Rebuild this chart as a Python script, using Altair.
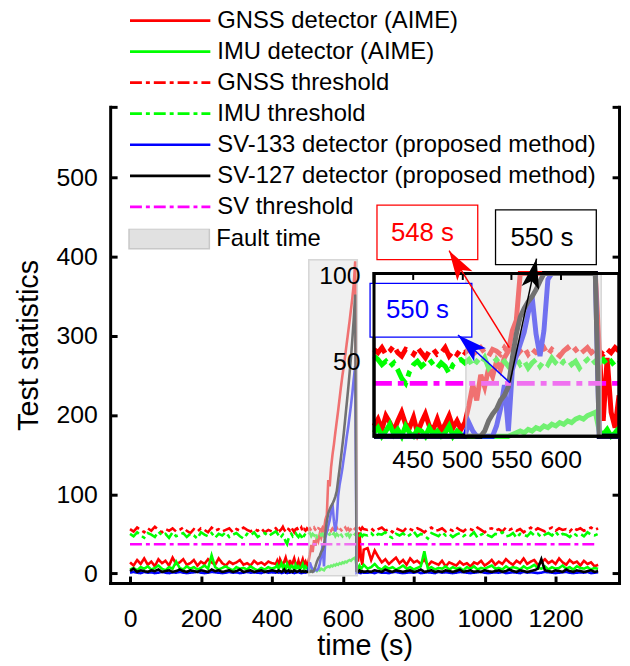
import altair as alt
import pandas as pd

FONT = "Liberation Sans"

# ---------------- series / legend ----------------
SERIES = [
    "GNSS detector (AIME)",
    "IMU detector (AIME)",
    "GNSS threshold",
    "IMU threshold",
    "SV-133 detector (proposed method)",
    "SV-127 detector (proposed method)",
    "SV threshold",
]
COLORS = ["#ff0000", "#00ff00", "#ff0000", "#00ff00", "#0000ff", "#000000", "#ff00ff"]
FAULT_LABEL = ["Fault time"]
FAULT_COLOR = ["#e1e1e1"]
SOLID = [1, 0]
DASH_MAIN = [12, 4, 4, 4]
DASH_INSET = [18, 6, 6, 6]
DASHES = [SOLID, SOLID, DASH_MAIN, DASH_MAIN, SOLID, SOLID, DASH_MAIN]

# ---------------- axes ----------------
X_DOMAIN = [-56, 1379]
Y_DOMAIN = [-12, 589]
X_TICKS = [0, 200, 400, 600, 800, 1000, 1200]
Y_TICKS = [0, 100, 200, 300, 400, 500]

INSET_X = [411, 659]
INSET_Y = [6, 101.5]
INSET_X_TICKS = [450, 500, 550, 600]
INSET_Y_TICKS = [50, 100]

PLOT_W, PLOT_H = 513, 480
INSET_H = 164
INSET_LEFT = 266
INSET_TOP = 168

FAULT_T = [504, 641]
FAULT_MAIN_V = [-3, 396]
SV_THRESHOLD = 37
SV_THR_T = [0, 1320]

# ---------------- time grid ----------------
T_A = list(range(0, 401, 10))
T_B = list(range(411, 660, 4))
T_C = list(range(670, 1321, 10))

# ---------------- series values ----------------
GNSS_DET_A = [14, 10, 17, 12, 19, 11, 15, 9, 18, 13, 16, 10, 20, 12, 14, 18, 11, 13, 17, 10, 15,
              12, 18, 14, 11, 19, 13, 10, 15, 12, 14, 17, 11, 13, 10, 16, 12, 14, 11, 15, 13]
GNSS_DET_B = [12, 16, 10, 18, 14, 9, 15, 20, 13, 11, 17, 8, 14, 19, 12, 10, 16, 9, 13, 18, 11, 15, 10,
              14, 24, 36, 27, 42, 35, 46, 41, 50, 45, 52, 56, 68, 74, 118, 110, 134, 150, 163, 178,
              192, 206, 221, 236, 250, 262, 276, 290, 304, 318, 333, 348, 366, 394,
              57, 15, 52, 20, 11, 30]
GNSS_DET_C = [32, 17, 29, 21, 14, 18, 12, 16, 20, 13, 17, 11, 19, 14, 16, 12, 18, 10, 15, 13, 11, 16,
              9, 14, 12, 10, 15, 11, 13, 9, 14, 12, 16, 10, 13, 17, 11, 15, 12, 18, 14, 11, 16, 13,
              19, 12, 15, 17, 11, 14, 18, 13, 16, 12, 19, 14, 11, 17, 13, 15, 10, 16, 12, 14, 9, 11]

IMU_DET_A = [5, 7, 4, 8, 6, 9, 5, 7, 10, 6, 4, 8, 6, 15, 7, 5, 9, 6, 8, 5, 7, 10, 6, 23, 8, 5, 7,
             9, 6, 4, 8, 6, 7, 5, 9, 6, 4, 7, 5, 8, 6]
IMU_DET_B = [8, 11, 6, 9, 13, 7, 10, 5, 12, 8, 6, 10, 9, 4, 11, 7, 9, 5, 8, 12, 6, 9, 7,
             4, 5, 3, 6, 4, 5, 3, 5, 4, 6, 5, 4, 7, 8, 9, 8, 10, 9, 11, 10, 12, 11, 13, 12, 14, 13,
             15, 14, 16, 17, 16, 18, 19, 20,
             9, 7, 10, 6, 8, 11]
IMU_DET_C = [6, 8, 12, 7, 5, 9, 6, 8, 5, 7, 10, 6, 8, 5, 7, 9, 28, 6, 8, 5, 7, 6, 9, 5, 8, 6, 7, 4,
             8, 6, 9, 5, 7, 6, 8, 10, 6, 7, 5, 9, 6, 8, 7, 5, 9, 6, 8, 11, 7, 6, 9, 5, 8, 6, 7, 10,
             6, 8, 5, 9, 7, 6, 8, 5, 7, 6]

GNSS_THR_A = [56, 53, 58, 55, 52, 57, 54, 59, 55, 52, 56, 54, 57, 53, 55, 58, 54, 51, 56, 53, 57,
              55, 52, 58, 54, 56, 53, 55, 57, 52, 56, 54, 58, 55, 53, 56, 54, 57, 52, 55, 53]
GNSS_THR_B = [57, 55, 58, 54, 56, 59, 55, 53, 57, 56, 54, 58, 55, 52, 56, 57, 54, 55, 58, 53, 56, 54, 57,
              55, 57, 54, 56, 58, 55, 53, 57, 56, 54, 58, 55, 57, 53, 56, 58, 54, 57, 55, 56, 58, 54,
              57, 55, 53, 56, 58, 55, 57, 54, 56, 58, 55, 57,
              56, 54, 57, 55, 58, 56]
GNSS_THR_C = [55, 57, 53, 56, 58, 54, 56, 52, 57, 55, 53, 58, 56, 54, 57, 55, 52, 56, 58, 54, 55, 57,
              53, 56, 54, 58, 55, 53, 57, 56, 54, 58, 55, 52, 56, 57, 54, 56, 53, 58, 55, 57, 54, 56,
              52, 55, 58, 54, 57, 55, 53, 56, 58, 54, 57, 55, 56, 53, 58, 55, 57, 54, 56, 58, 55, 57]

IMU_THR_A = [50, 47, 52, 48, 45, 51, 49, 46, 53, 48, 50, 45, 52, 47, 49, 51, 46, 50, 48, 44, 52,
             49, 47, 51, 45, 50, 48, 52, 46, 49, 51, 47, 44, 50, 48, 52, 46, 49, 51, 47, 50]
IMU_THR_B = [53, 51, 48, 50, 47, 49, 45, 40, 37, 44, 48, 50, 47, 49, 51, 48, 46, 49, 47, 43, 48, 50, 51,
             49, 51, 47, 50, 48, 52, 46, 49, 51, 48, 50, 47, 49, 52, 48, 50, 46, 49, 51, 47, 50, 48,
             52, 49, 47, 50, 51, 48, 50, 46, 49, 51, 48, 50,
             49, 51, 48, 50, 47, 49]
IMU_THR_C = [48, 51, 46, 50, 49, 52, 47, 45, 50, 48, 51, 46, 49, 53, 47, 50, 48, 44, 51, 49, 47, 52,
             48, 50, 46, 49, 51, 47, 50, 48, 52, 45, 49, 51, 48, 46, 50, 49, 52, 47, 48, 51, 45, 50,
             49, 47, 52, 48, 50, 46, 49, 51, 48, 53, 47, 50, 49, 46, 51, 48, 50, 47, 52, 49, 48, 50]

SV133_A = [1, 2, 1, 0.5, 2, 1, 1.5, 0.5, 1, 2, 1, 0.5, 1.5, 1, 2, 1, 0.5, 1, 1.5, 2, 1, 0.5, 1, 2,
           1.5, 1, 0.5, 1, 2, 1, 1.5, 0.5, 1, 2, 1, 1.5, 1, 0.5, 2, 1, 1.5]
SV133_B = [1, 2, 1, 1.5, 0.5, 1, 2, 1, 0.5, 1.5, 1, 2, 1, 0.5, 1, 1.5, 2, 1, 0.5, 1, 1.5, 1, 2,
           3, 14, 9, 4, 3, 5, 4, 6, 12, 22, 36, 9, 45, 53, 60, 67, 78, 88, 66, 53, 68, 98, 112, 122,
           133, 146, 158, 172, 184, 198, 212, 228, 246, 262,
           1, 2, 1, 0.5, 1.5, 1]
SV133_C = [1, 1.5, 0.5, 2, 1, 1, 0.5, 1.5, 2, 1, 0.5, 1, 1.5, 1, 2, 0.5, 1, 1.5, 1, 0.5, 2, 1, 1.5,
           1, 0.5, 1, 2, 1.5, 1, 0.5, 1, 1.5, 2, 1, 0.5, 1, 1.5, 1, 2, 0.5, 1, 1.5, 1, 0.5, 2, 1,
           1.5, 1, 0.5, 1, 2, 1.5, 1, 0.5, 1, 1.5, 2, 1, 0.5, 1, 1.5, 1, 2, 0.5, 1, 1.5]

SV127_A = [3, 6, 2, 4, 3, 2, 4, 3, 5, 2, 3, 4, 2, 3, 5, 3, 2, 4, 3, 2, 4, 3, 2, 5, 3, 4, 2, 3, 4, 2,
           3, 5, 2, 3, 4, 2, 3, 4, 2, 3, 4]
SV127_B = [3, 2, 4, 3, 2, 3, 5, 2, 3, 4, 2, 3, 2, 4, 3, 2, 3, 4, 2, 3, 2, 3, 2,
           2, 2, 3, 2, 4, 9, 15, 19, 22, 27, 30, 35, 52, 66, 76, 81, 85, 88, 92, 97, 104, 118, 132,
           147, 162, 178, 196, 214, 232, 252, 272, 296, 322, 352,
           3, 2, 4, 2, 3, 2]
SV127_C = [3, 2, 4, 3, 2, 5, 3, 2, 4, 3, 2, 3, 4, 2, 3, 5, 2, 3, 4, 2, 3, 2, 4, 3, 2, 3, 5, 2, 3, 4,
           2, 3, 2, 4, 3, 2, 3, 4, 2, 3, 5, 3, 2, 4, 3, 2, 3, 4, 6, 18, 4, 3, 2, 4, 3, 2, 5, 3, 2, 4,
           3, 2, 3, 4, 2, 3]

# ---------------- annotations (inset data coordinates) ----------------
ANN_TEXT = ["548 s", "550 s", "550 s"]
ANN_COLOR = ["#ff0000", "#000000", "#0000ff"]
ANN_BOX_X0 = [414, 534, 407]
ANN_BOX_X1 = [516, 636, 510]
ANN_BOX_Y0 = [109.7, 106.7, 64.2]
ANN_BOX_Y1 = [141.7, 138.8, 95.7]
ANN_TEXT_X = [460, 581, 455]
ANN_TEXT_Y = [125.4, 122.5, 80.0]
ARROW_X0 = [548, 548.5, 548.5]
ARROW_Y0 = [58, 37.4, 37.4]
ARROW_X1 = [487, 575.5, 496]
ARROW_Y1 = [114.9, 110.2, 65.4]
ARROW_ANGLE = [328, 12, 312]
ARROW_HEAD = "M0,0L0.45,1.5L0,1.15L-0.45,1.5Z"
LEGEND_BOX = "M-1,-0.25H1V0.25H-1Z"

# ---------------- data frames ----------------
TIME = T_A + T_B + T_C
VALUES = {
    SERIES[0]: GNSS_DET_A + GNSS_DET_B + GNSS_DET_C,
    SERIES[1]: IMU_DET_A + IMU_DET_B + IMU_DET_C,
    SERIES[2]: GNSS_THR_A + GNSS_THR_B + GNSS_THR_C,
    SERIES[3]: IMU_THR_A + IMU_THR_B + IMU_THR_C,
    SERIES[4]: SV133_A + SV133_B + SV133_C,
    SERIES[5]: SV127_A + SV127_B + SV127_C,
}
rows = []
for name in SERIES[:6]:
    vals = VALUES[name]
    assert len(vals) == len(TIME), (name, len(vals), len(TIME))
    rows += [{"time": t, "value": v, "series": name} for t, v in zip(TIME, vals)]
rows += [{"time": t, "value": SV_THRESHOLD, "series": SERIES[6]} for t in SV_THR_T]
df = pd.DataFrame(rows)

df_fault_main = pd.DataFrame({"t0": [FAULT_T[0]], "t1": [FAULT_T[1]],
                              "v0": [FAULT_MAIN_V[0]], "v1": [FAULT_MAIN_V[1]],
                              "label": FAULT_LABEL})
df_inset_box = pd.DataFrame({"t0": [INSET_X[0]], "t1": [INSET_X[1]],
                             "v0": [INSET_Y[0]], "v1": [INSET_Y[1]]})
df_fault_inset = pd.DataFrame({"t0": [FAULT_T[0]], "t1": [FAULT_T[1]],
                               "v0": [INSET_Y[0]], "v1": [INSET_Y[1]]})
df_svthr_inset = pd.DataFrame({"t0": [INSET_X[0]], "t1": [INSET_X[1]],
                               "v": [SV_THRESHOLD], "series": [SERIES[6]]})
df_ann = pd.DataFrame({
    "label": ANN_TEXT, "color": ANN_COLOR,
    "bx0": ANN_BOX_X0, "bx1": ANN_BOX_X1, "by0": ANN_BOX_Y0, "by1": ANN_BOX_Y1,
    "tx": ANN_TEXT_X, "ty": ANN_TEXT_Y,
    "ax0": ARROW_X0, "ay0": ARROW_Y0, "ax1": ARROW_X1, "ay1": ARROW_Y1,
    "angle": ARROW_ANGLE,
})

# ---------------- scales ----------------
x_main = alt.Scale(domain=X_DOMAIN, nice=False, zero=False)
y_main = alt.Scale(domain=Y_DOMAIN, nice=False, zero=False)
x_in = alt.Scale(domain=INSET_X, range=[INSET_LEFT, PLOT_W], nice=False, zero=False)
y_in = alt.Scale(domain=INSET_Y, range=[INSET_TOP + INSET_H, INSET_TOP], nice=False, zero=False,
                 clamp=True)
y_ann = alt.Scale(domain=INSET_Y, range=[INSET_TOP + INSET_H, INSET_TOP], nice=False, zero=False)
color_scale = alt.Scale(domain=SERIES, range=COLORS)
dash_scale = alt.Scale(domain=SERIES, range=DASHES)
fault_scale = alt.Scale(domain=FAULT_LABEL, range=FAULT_COLOR)

LEGEND_COMMON = dict(
    title=None, orient="none", padding=0, symbolSize=6561, symbolOffset=0,
    labelFont=FONT, labelFontSize=24, labelColor="black", labelLimit=700,
    clipHeight=20, rowPadding=7.3,
)
legend_lines = alt.Legend(legendX=18.5, legendY=-97, symbolType="stroke", symbolStrokeWidth=2.7,
                          labelOffset=5.5, **LEGEND_COMMON)
legend_fault = alt.Legend(legendX=18, legendY=123, symbolType=LEGEND_BOX, symbolStrokeWidth=1.5,
                          labelOffset=6, **LEGEND_COMMON)

# ---------------- main axes ----------------
ax_x_main = alt.Axis(orient="bottom", values=X_TICKS, format="d", title="time (s)", domain=True,
                     domainWidth=3, domainCap="square", ticks=False, labelFontSize=25, labelPadding=24,
                     labelFlush=False, titleFontSize=29, titlePadding=0)
ax_y_main = alt.Axis(orient="left", values=Y_TICKS, format="d", title="Test statistics", domain=True,
                     domainWidth=3, domainCap="square", ticks=False, labelFontSize=25, labelPadding=13,
                     labelFlush=False, titleFontSize=29, titlePadding=13)
ax_x_in_ticks = alt.Axis(orient="top", offset=-PLOT_H, values=X_TICKS, labels=False, domain=False,
                         ticks=True, tickSize=7, tickWidth=3, title=None)
ax_y_in_ticks = alt.Axis(orient="right", offset=-PLOT_W, values=Y_TICKS + [Y_DOMAIN[1]], labels=False,
                         domain=False, ticks=True, tickSize=7, tickWidth=3, title=None)
ax_y_right = alt.Axis(orient="left", offset=-PLOT_W, values=Y_TICKS + [Y_DOMAIN[1]], labels=False,
                      domain=True, domainWidth=3, domainCap="square", ticks=True, tickSize=7,
                      tickWidth=3, title=None)

# ---------------- main panel ----------------
lines_main = alt.Chart(df).mark_line(strokeWidth=2.6, clip=True).encode(
    x=alt.X("time:Q", scale=x_main, axis=ax_x_main),
    y=alt.Y("value:Q", scale=y_main, axis=ax_y_main),
    color=alt.Color("series:N", scale=color_scale, legend=legend_lines),
    strokeDash=alt.StrokeDash("series:N", scale=dash_scale, legend=legend_lines),
)
fault_main = alt.Chart(df_fault_main).mark_rect(
    fillOpacity=0.5, stroke="#c8c8c8", strokeWidth=1.5, strokeOpacity=0.7
).encode(
    x=alt.X("t0:Q", scale=x_main, axis=ax_x_in_ticks), x2="t1:Q",
    y=alt.Y("v0:Q", scale=y_main, axis=ax_y_in_ticks), y2="v1:Q",
    fill=alt.Fill("label:N", scale=fault_scale, legend=legend_fault),
)
frame_main = alt.Chart(df_fault_main).mark_rect(opacity=0).encode(
    x=alt.X("t0:Q", scale=x_main, axis=None), x2="t1:Q",
    y=alt.Y("v0:Q", scale=y_main, axis=ax_y_right), y2="v1:Q",
)
main = alt.layer(lines_main, fault_main, frame_main).resolve_axis(x="independent", y="independent")

# ---------------- inset panel ----------------
ax_x_in_lab = alt.Axis(orient="bottom", offset=-(PLOT_H - INSET_TOP - INSET_H), values=INSET_X_TICKS,
                       domain=False, ticks=False, labelFontSize=25, labelPadding=12,
                       labelFlush=False, title=None, zindex=1)
ax_y_in_lab = alt.Axis(orient="left", offset=-INSET_LEFT, values=INSET_Y_TICKS, domain=False,
                       ticks=False, labelFontSize=25, labelPadding=14, labelFlush=False, title=None,
                       zindex=1)
ax_x_in_top = alt.Axis(orient="bottom", offset=-(PLOT_H - INSET_TOP), values=INSET_X_TICKS, labels=False,
                       domain=False, ticks=True, tickSize=6, tickWidth=2, title=None, zindex=1)

in_range = alt.FieldRangePredicate(field="time", range=INSET_X)


def inset_lines(names, dash=None, axis=None):
    kw = dict(strokeWidth=5, clip=True)
    if dash is not None:
        kw["strokeDash"] = dash
    return alt.Chart(df).transform_filter(in_range).transform_filter(
        alt.FieldOneOfPredicate(field="series", oneOf=names)
    ).mark_line(**kw).encode(
        x=alt.X("time:Q", scale=x_in, axis=axis),
        y=alt.Y("value:Q", scale=y_in, axis=None),
        color=alt.Color("series:N", scale=color_scale, legend=None),
    )


bg_in = alt.Chart(df_inset_box).mark_rect(fill="white", strokeWidth=0).encode(
    x=alt.X("t0:Q", scale=x_in, axis=ax_x_in_lab), x2="t1:Q",
    y=alt.Y("v0:Q", scale=y_in, axis=ax_y_in_lab), y2="v1:Q",
)
det_in = inset_lines(SERIES[0:2], axis=ax_x_in_top)
thr_in = inset_lines(SERIES[2:4], dash=DASH_INSET)
sv_in = inset_lines(SERIES[4:6])
svthr_in = alt.Chart(df_svthr_inset).mark_rule(strokeWidth=5, strokeDash=DASH_INSET).encode(
    x=alt.X("t0:Q", scale=x_in, axis=None), x2="t1:Q",
    y=alt.Y("v:Q", scale=y_in, axis=None),
    color=alt.Color("series:N", scale=color_scale, legend=None),
)
fault_in = alt.Chart(df_fault_inset).mark_rect(
    fill=FAULT_COLOR[0], fillOpacity=0.5, stroke="#c8c8c8", strokeWidth=1.5, strokeOpacity=0.7
).encode(
    x=alt.X("t0:Q", scale=x_in, axis=None), x2="t1:Q",
    y=alt.Y("v0:Q", scale=y_in, axis=None), y2="v1:Q",
)
frame_in = alt.Chart(df_inset_box).mark_rect(fillOpacity=0, stroke="black", strokeWidth=3).encode(
    x=alt.X("t0:Q", scale=x_in, axis=None), x2="t1:Q",
    y=alt.Y("v0:Q", scale=y_in, axis=None), y2="v1:Q",
)
inset = alt.layer(bg_in, det_in, thr_in, sv_in, svthr_in, fault_in, frame_in).resolve_axis(
    x="independent", y="independent")

# annotations use an unclamped copy of the inset scale
boxes = alt.Chart(df_ann).mark_rect(fill="white", strokeWidth=1.3).encode(
    x=alt.X("bx0:Q", scale=x_in, axis=None), x2="bx1:Q",
    y=alt.Y("by0:Q", scale=y_ann, axis=None), y2="by1:Q",
    stroke=alt.Stroke("color:N", scale=None),
)
arrows = alt.Chart(df_ann).mark_rule(strokeWidth=1.5).encode(
    x=alt.X("ax0:Q", scale=x_in, axis=None), x2="ax1:Q",
    y=alt.Y("ay0:Q", scale=y_ann, axis=None), y2="ay1:Q",
    color=alt.Color("color:N", scale=None),
)
heads = alt.Chart(df_ann).mark_point(shape=ARROW_HEAD, size=1600, filled=True, opacity=1,
                                     strokeWidth=0).encode(
    x=alt.X("ax1:Q", scale=x_in, axis=None),
    y=alt.Y("ay1:Q", scale=y_ann, axis=None),
    angle=alt.Angle("angle:Q", scale=None),
    color=alt.Color("color:N", scale=None),
)
texts = alt.Chart(df_ann).mark_text(font=FONT, fontSize=26, baseline="middle", align="center").encode(
    x=alt.X("tx:Q", scale=x_in, axis=None),
    y=alt.Y("ty:Q", scale=y_ann, axis=None),
    text="label:N",
    color=alt.Color("color:N", scale=None),
)
annot_below = alt.layer(boxes).resolve_axis(x="independent", y="independent")
frame_top = frame_in
annot = alt.layer(arrows, heads, texts).resolve_axis(x="independent", y="independent")

chart = alt.layer(main, inset, annot_below, frame_top, annot).resolve_scale(
    x="independent", y="independent", color="independent", strokeDash="independent"
).properties(
    width=PLOT_W, height=PLOT_H, background="white",
    padding={"left": 6, "top": 0, "right": 0, "bottom": 0},
).configure_view(stroke=None).configure_axis(
    grid=False, labelFont=FONT, titleFont=FONT, labelColor="black", titleColor="black",
    titleFontWeight="normal", domainColor="black", tickColor="black"
)

chart.save("out.html", embed_options={"renderer": "svg", "actions": False})
